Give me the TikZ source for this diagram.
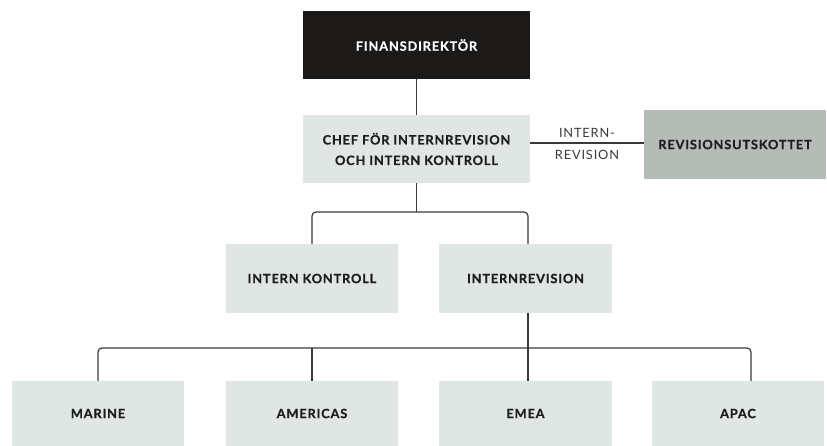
\documentclass[tikz,border=0pt]{standalone}
\usepackage{fontspec}
\setmainfont{Lato}[LetterSpace=6.5, BoldFeatures={FakeBold=0.6}]
\definecolor{lightbox}{HTML}{DFE6E4}
\definecolor{graybox}{HTML}{B5BCB8}
\definecolor{darkbox}{HTML}{1B1A19}
\definecolor{lineC}{HTML}{3A3A3A}
\definecolor{txt}{HTML}{1E1E1E}
\begin{document}
\begin{tikzpicture}[x=1pt,y=-1pt,
  box/.style={fill=lightbox, minimum width=172.5pt, minimum height=68.5pt, inner sep=0pt,
    font=\bfseries\fontsize{12.8}{20.5}\selectfont, text=txt, align=center},
  ln/.style={draw=lineC, line width=1.2pt},
  lbl/.style={font=\fontsize{12.8}{14}\selectfont, text=lineC, inner sep=0pt}]
\useasboundingbox (0,0) rectangle (827,446);
\node[box, fill=darkbox, text=white, minimum width=227pt, minimum height=68pt] (fin) at (416.5,45) {FINANSDIREKTÖR};
\node[box, minimum width=227pt, minimum height=68pt] (chef) at (416.5,149) {CHEF FÖR INTERNREVISION\\OCH INTERN KONTROLL};
\node[box, fill=graybox, minimum width=182pt, minimum height=69pt] (rev) at (735,144.5) {REVISIONSUTSKOTTET};
\node[box] (ik) at (312,278.5) {INTERN KONTROLL};
\node[box] (ir) at (525.5,278.5) {INTERNREVISION};
\node[box, minimum height=65pt] (marine) at (98,413.5) {MARINE};
\node[box, minimum height=65pt] (americas) at (312,413.5) {AMERICAS};
\node[box, minimum height=65pt] (emea) at (525.5,413.5) {EMEA};
\node[box, minimum height=65pt] (apac) at (738,413.5) {APAC};
% connectors
\draw[ln] (fin) -- (chef);
\coordinate (b1) at (416.5,212);
\draw[ln] (chef.south) -- (b1);
\draw[ln, rounded corners=4pt] (ik.north) |- (b1) -| ([xshift=2.5pt]ir.north);
\coordinate (r1) at ([yshift=6pt]chef.east);
\draw[ln] (r1) -- (rev.west |- r1)
  node[lbl, midway, above=5pt] {INTERN-}
  node[lbl, midway, below=6.5pt] {REVISION};
\coordinate (b2) at (528,348);
\draw[ln] ([xshift=2.5pt]ir.south) -- ([xshift=2.5pt]emea.north);
\draw[ln, rounded corners=4pt] (marine.north) |- (b2) -| ([xshift=13pt]apac.north);
\draw[ln] (americas.north) -- (americas.north |- b2);
\end{tikzpicture}
\end{document}
